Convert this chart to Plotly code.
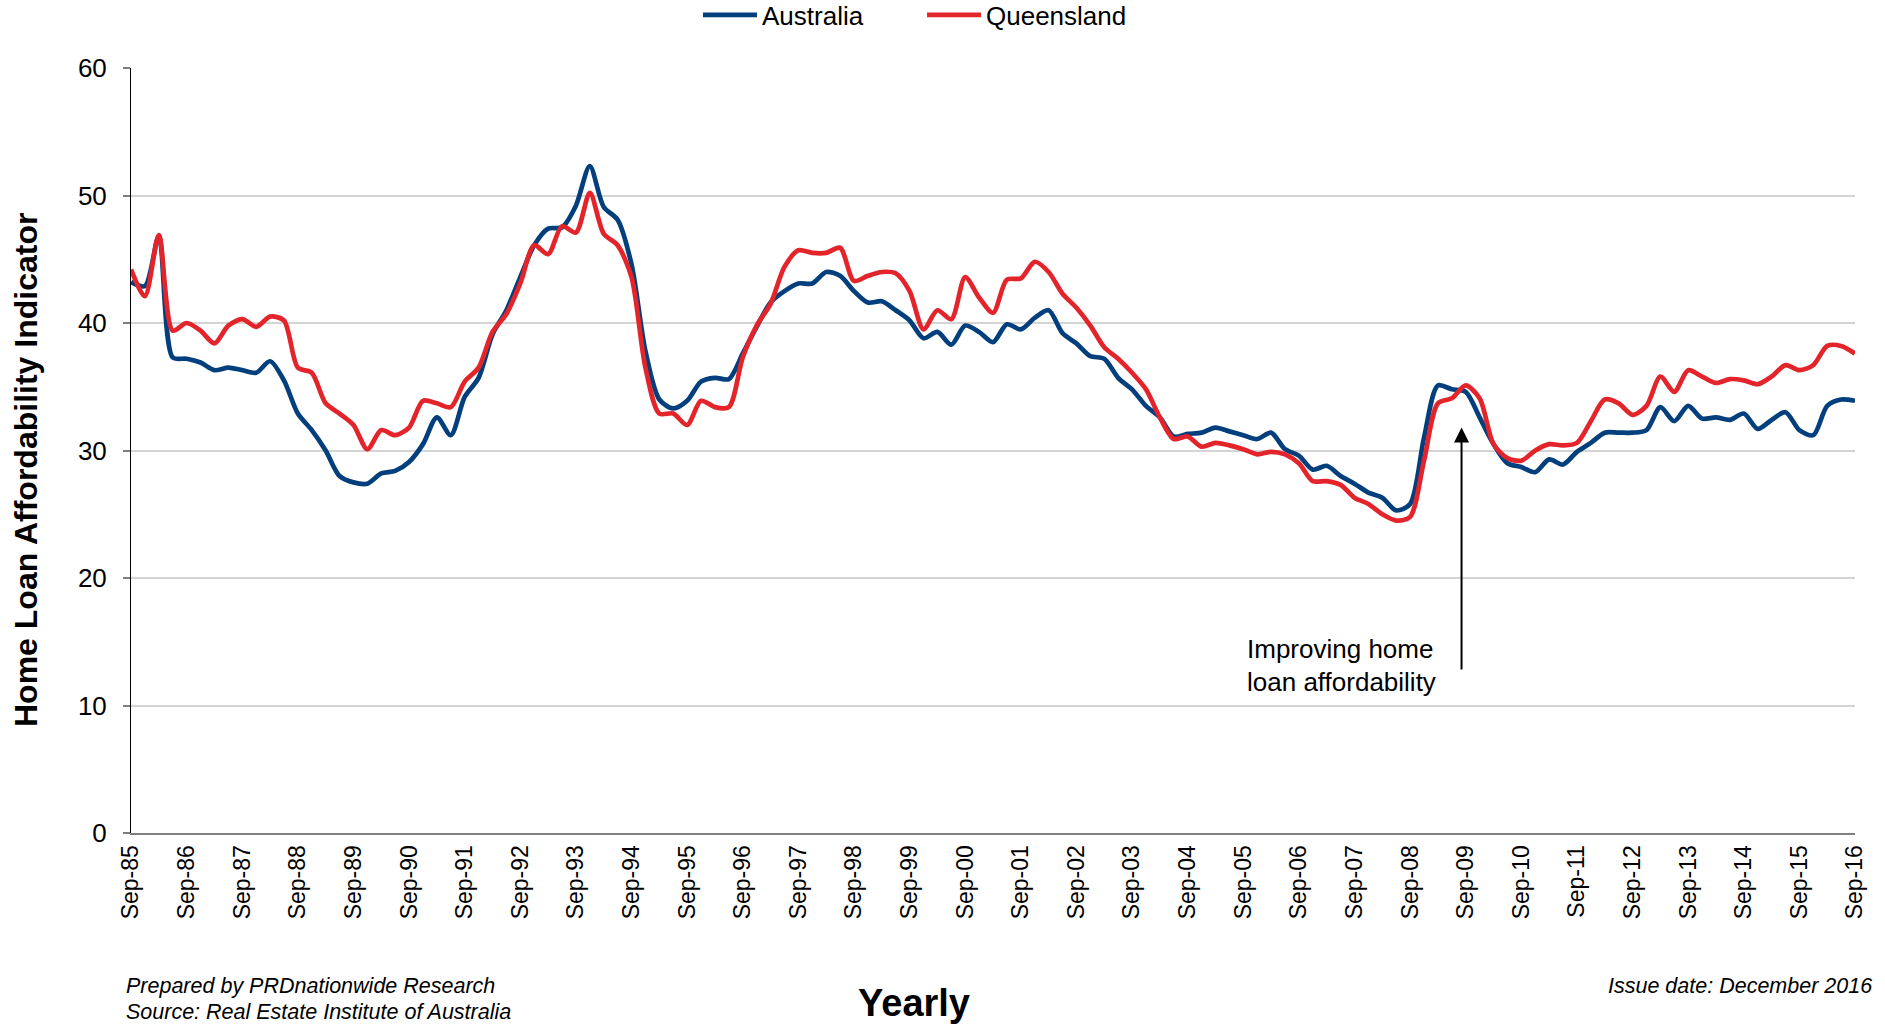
import plotly.graph_objects as go

# ---- data (quarterly, Sep-85 .. Sep-16) ----
years = [f"{y % 100:02d}" for y in range(1985, 2017)]
tick_labels = [f"Sep-{y}" for y in years]

australia = [
    43.2, 42.9, 46.8, 37.3, 37.2, 36.9, 36.3, 36.5, 36.3, 36.1,
    37.0, 35.5, 32.9, 31.6, 30.0, 28.0, 27.5, 27.4, 28.2, 28.4,
    29.1, 30.5, 32.6, 31.2, 34.2, 35.7, 39.1, 41.0, 43.6, 46.1,
    47.4, 47.5, 49.2, 52.3, 49.1, 48.1, 44.6, 37.8, 34.0, 33.3,
    33.9, 35.4, 35.7, 35.6, 37.6, 39.7, 41.6, 42.5, 43.1, 43.1,
    44.0, 43.7, 42.5, 41.6, 41.7, 41.0, 40.2, 38.8, 39.3, 38.3,
    39.8, 39.3, 38.5, 39.9, 39.5, 40.4, 41.0, 39.2, 38.4, 37.4,
    37.2, 35.7, 34.8, 33.5, 32.6, 31.1, 31.3, 31.4, 31.8, 31.5,
    31.2, 30.9, 31.4, 30.1, 29.6, 28.5, 28.8, 28.0, 27.4, 26.7,
    26.3, 25.3, 25.8, 31.0, 35.1, 34.8, 34.6, 32.6, 30.5, 29.0,
    28.7, 28.3, 29.3, 28.9, 29.9, 30.6, 31.4, 31.4, 31.4, 31.6,
    33.4, 32.3, 33.5, 32.5, 32.6, 32.4, 32.9, 31.7, 32.4, 33.0,
    31.6, 31.2, 33.5, 34.0, 33.9,
]

queensland = [
    44.2, 42.1, 46.9, 39.4, 40.0, 39.4, 38.4, 39.8, 40.3, 39.7,
    40.5, 40.2, 36.5, 36.1, 33.7, 32.9, 32.0, 30.1, 31.6, 31.2,
    31.8, 33.9, 33.7, 33.4, 35.4, 36.5, 39.3, 40.7, 43.1, 46.1,
    45.4, 47.6, 47.1, 50.2, 47.0, 46.1, 43.6, 36.5, 32.9, 32.9,
    32.0, 33.9, 33.4, 33.4, 37.3, 39.8, 41.5, 44.4, 45.7, 45.5,
    45.5, 45.9, 43.3, 43.7, 44.0, 43.9, 42.5, 39.5, 41.0, 40.3,
    43.6, 42.0, 40.8, 43.4, 43.5, 44.8, 44.0, 42.3, 41.2, 39.8,
    38.1, 37.2, 36.1, 34.8, 32.6, 30.9, 31.1, 30.3, 30.6, 30.4,
    30.1, 29.7, 29.9, 29.7, 29.0, 27.6, 27.6, 27.3, 26.3, 25.8,
    25.0, 24.5, 24.8, 29.2, 33.7, 34.1, 35.1, 34.1, 30.5, 29.4,
    29.2, 30.0, 30.5, 30.4, 30.6, 32.3, 34.0, 33.7, 32.8, 33.5,
    35.8, 34.6, 36.3, 35.8, 35.3, 35.6, 35.5, 35.2, 35.8, 36.7,
    36.3, 36.7, 38.2, 38.2, 37.6,
]

quarters = list(range(len(australia)))
tick_positions = list(range(0, len(australia), 4))

# ---- layout helpers: page pixel -> paper ----
W, H = 1885, 1024
PLOT_L, PLOT_R, PLOT_T, PLOT_B = 131, 1855, 68, 833  # page px
L, T, R, B = PLOT_L, PLOT_T, W - PLOT_R, H - PLOT_B
PW, PH = W - L - R, H - T - B


def px(x):
    return (x - L) / PW


def py(y):
    return (PLOT_B - y) / PH


FONT = "Liberation Sans, Arial, sans-serif"
BLUE = "#023f7c"
RED = "#e3242b"

fig = go.Figure()
fig.add_trace(go.Scatter(
    x=quarters, y=australia, name="Australia", mode="lines",
    line=dict(color=BLUE, width=4.7, shape="spline", smoothing=0.8),
))
fig.add_trace(go.Scatter(
    x=quarters, y=queensland, name="Queensland", mode="lines",
    line=dict(color=RED, width=4.7, shape="spline", smoothing=0.8),
))

fig.update_layout(
    width=W, height=H,
    margin=dict(l=L, r=R, t=T, b=B, autoexpand=False),
    paper_bgcolor="white", plot_bgcolor="white",
    font=dict(family=FONT, color="black"),
    showlegend=True,
    legend=dict(
        orientation="h", x=px(698), xanchor="left",
        y=py(15), yanchor="middle",
        font=dict(size=26, family=FONT, color="black"),
        entrywidth=155, itemwidth=54,
        bgcolor="rgba(0,0,0,0)",
    ),
    xaxis=dict(
        range=[0, len(australia) - 1],
        tickmode="array", tickvals=tick_positions, ticktext=tick_labels,
        tickangle=-90, tickfont=dict(size=23, family=FONT, color="black"),
        showgrid=False, zeroline=False,
        showline=True, linecolor="#808080", linewidth=2,
        ticks="", ticklabelstandoff=1,
    ),
    yaxis=dict(
        range=[0, 60], dtick=10, tick0=0,
        tickfont=dict(size=26, family=FONT, color="black"),
        showgrid=True, gridcolor="#d4d4d4", gridwidth=1.5,
        zeroline=False,
        showline=True, linecolor="black", linewidth=1,
        ticks="outside", ticklen=7, tickcolor="#7f7f7f", tickwidth=1.5,
        ticklabelstandoff=11,
    ),
)

annotations = [
    dict(text="<b>Home Loan Affordability Indicator</b>", x=px(26), y=py(470),
         xref="paper", yref="paper", textangle=-90, showarrow=False,
         xanchor="center", yanchor="middle",
         font=dict(size=32, family=FONT, color="black")),
    dict(text="<b>Yearly</b>", x=px(914), y=py(1003), xref="paper", yref="paper",
         showarrow=False, xanchor="center", yanchor="middle",
         font=dict(size=38, family=FONT, color="black")),
    dict(text="<i>Prepared by PRDnationwide Research</i>", x=px(124), y=py(986),
         xref="paper", yref="paper", showarrow=False, xanchor="left", yanchor="middle",
         font=dict(size=21.5, family=FONT, color="black")),
    dict(text="<i>Source: Real Estate Institute of Australia</i>", x=px(124), y=py(1012),
         xref="paper", yref="paper", showarrow=False, xanchor="left", yanchor="middle",
         font=dict(size=21.5, family=FONT, color="black")),
    dict(text="<i>Issue date: December 2016</i>", x=px(1874), y=py(986),
         xref="paper", yref="paper", showarrow=False, xanchor="right", yanchor="middle",
         font=dict(size=21.5, family=FONT, color="black")),
    dict(text="Improving home", x=px(1245), y=py(649),
         xref="paper", yref="paper", showarrow=False, xanchor="left", yanchor="middle",
         font=dict(size=26, family=FONT, color="black")),
    dict(text="loan affordability", x=px(1245), y=py(682),
         xref="paper", yref="paper", showarrow=False, xanchor="left", yanchor="middle",
         font=dict(size=26, family=FONT, color="black")),
    dict(text="", x=95.7, y=31.8, xref="x", yref="y",
         ax=95.7, ay=12.7, axref="x", ayref="y",
         showarrow=True, arrowhead=2, arrowsize=1.5, arrowwidth=2,
         arrowcolor="black", standoff=0, startstandoff=0),
]
fig.update_layout(annotations=annotations)

# remove the browser's default 8px body margin so the figure fills the window
fig.write_html(
    "out.html",
    config={"displayModeBar": False},
    post_script="document.body.style.margin='0';document.body.style.overflow='hidden';",
)
